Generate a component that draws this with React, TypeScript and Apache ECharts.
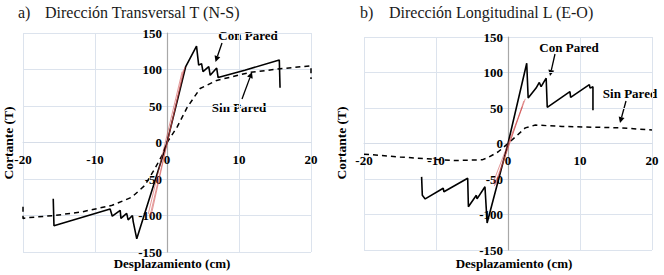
import React, { useEffect, useRef } from "react";
import * as echarts from "echarts";

// ---------- data (desplazamiento cm, cortante T) ----------
const xTicks = [-20, -10, 0, 10, 20];
const yTicks = [-150, -100, -50, 0, 50, 100, 150];

// a) Dirección Transversal T (N-S)
const conParedT: [number, number][] = [
  [-15.8, -77], [-15.7, -114], [-7.9, -91], [-7.6, -101], [-6.5, -93], [-6.4, -104],
  [-5.6, -97], [-5.4, -106], [-4.8, -100], [-4.7, -108], [-4.2, -132], [0, 0],
  [2.6, 104], [4.1, 132], [4.4, 106], [4.8, 108], [5.0, 97], [5.8, 104], [6.0, 92],
  [6.9, 102], [7.1, 89], [10.8, 99], [15.6, 113], [15.7, 75],
];
const sinParedT: [number, number][] = [
  [-20, -88], [-20, -104], [-19.3, -103], [-15.6, -100], [-11.8, -95], [-7.6, -86],
  [-4.9, -75], [-3.1, -59], [-1.7, -36], [-0.7, -18], [0, 0], [1.4, 21], [2.8, 48],
  [4.6, 74], [6.9, 85], [11.5, 96], [15.7, 101], [20, 105], [20, 87],
];
const elasticT: [number, number][][] = [
  [[-2.4, -102], [2.5, 104]],
  [[-2.2, -100], [2.3, 100]],
  [[-2.6, -98], [2.1, 97]],
];

// b) Dirección Longitudinal L (E-O)
const conParedL: [number, number][] = [
  [-12.0, -47], [-11.9, -73], [-11.5, -78], [-9.0, -63], [-8.9, -68], [-5.6, -49],
  [-5.5, -89], [-4.4, -73], [-4.3, -78], [-3.2, -61], [-2.9, -112], [0, 0],
  [2.6, 113], [2.8, 64], [3.9, 78], [4.35, 86], [4.6, 80], [5.3, 92], [5.45, 51],
  [8.6, 73], [8.7, 65], [11.3, 83], [11.4, 78], [11.8, 80], [11.8, 47],
];
const sinParedL: [number, number][] = [
  [-20, -15], [-15, -19], [-10.6, -22], [-7.4, -24], [-3.6, -23], [-2.8, -20],
  [-1.4, -12], [0, 0], [1.0, 9], [2.4, 22], [3.8, 26], [7.5, 24], [15.8, 22], [20, 19],
];
const elasticL: [number, number][][] = [
  [[-1.9, -60], [2.4, 63]],
  [[-1.7, -58], [2.2, 60]],
  [[-2.1, -56], [2.0, 52]],
];

const titles = ["Dirección Transversal T (N-S)", "Dirección Longitudinal L (E-O)"];
const titleLetters = ["a)", "b)"];
const yName = "Cortante (T)";
const xName = "Desplazamiento (cm)";
const conLabel = "Con Pared";
const sinLabel = "Sin Pared";

const SERIF = "Liberation Serif";

function arrow(x1: number, y1: number, x2: number, y2: number): any[] {
  const dx = x2 - x1;
  const dy = y2 - y1;
  const len = Math.sqrt(dx * dx + dy * dy);
  const ux = dx / len;
  const uy = dy / len;
  const hl = 6;
  const hw = 3;
  const bx = x2 - ux * hl;
  const by = y2 - uy * hl;
  return [
    {
      type: "line",
      shape: { x1, y1, x2: bx, y2: by },
      style: { stroke: "#000", lineWidth: 1.3 },
    },
    {
      type: "polygon",
      shape: {
        points: [
          [x2, y2],
          [bx - uy * hw, by + ux * hw],
          [bx + uy * hw, by - ux * hw],
        ],
      },
      style: { fill: "#000" },
    },
  ];
}

function text(x: number, y: number, t: string, opts: any = {}): any {
  return {
    type: "text",
    x,
    y,
    rotation: opts.rotation || 0,
    style: {
      text: t,
      fill: opts.color || "#000",
      fontFamily: SERIF,
      fontSize: opts.size || 13,
      fontWeight: opts.bold ? "bold" : "normal",
      align: opts.align || "center",
      verticalAlign: "middle",
    },
  };
}

export default function App() {
  const ref = useRef<HTMLDivElement>(null);

  useEffect(() => {
    if (!ref.current) return;
    const chart = echarts.init(ref.current, null, { renderer: "svg" });

    const grids = [
      { left: 23, top: 33, width: 288, height: 219 },
      { left: 364, top: 37, width: 288, height: 213 },
    ];

    const axisLabel = {
      fontFamily: SERIF,
      fontWeight: "bold",
      fontSize: 13,
      color: "#000",
    };

    const xAxis = [0, 1].map((i) => ({
      type: "value",
      gridIndex: i,
      position: "bottom",
      offset: -grids[i].height / 2,
      min: xTicks[0],
      max: xTicks[xTicks.length - 1],
      interval: 10,
      axisLine: { show: true, onZero: false, lineStyle: { color: "#d6dde8", width: 1 } },
      axisTick: { show: false },
      axisLabel: { ...axisLabel, margin: 10 },
      splitLine: { show: true, lineStyle: { color: "#dce3ed", width: 1 } },
    }));
    const yAxis = [0, 1].map((i) => ({
      type: "value",
      gridIndex: i,
      position: "left",
      offset: -grids[i].width / 2,
      min: yTicks[0],
      max: yTicks[yTicks.length - 1],
      interval: 50,
      axisLine: { show: true, onZero: false, lineStyle: { color: "#a8a8a8", width: 1.2 } },
      axisTick: { show: false },
      axisLabel: { ...axisLabel, margin: 5 },
      splitLine: { show: true, lineStyle: { color: "#dce3ed", width: 1 } },
    }));

    const series: any[] = [];
    const addSet = (i: number, con: [number, number][], sin: [number, number][], el: [number, number][][]) => {
      series.push({
        type: "line",
        xAxisIndex: i,
        yAxisIndex: i,
        data: sin,
        showSymbol: false,
        lineStyle: { color: "#000", width: 1.5, type: [5, 4] },
        z: 3,
      });
      series.push({
        type: "line",
        xAxisIndex: i,
        yAxisIndex: i,
        data: con,
        showSymbol: false,
        lineStyle: { color: "#000", width: 1.6 },
        z: 4,
      });
      el.forEach((seg) =>
        series.push({
          type: "line",
          xAxisIndex: i,
          yAxisIndex: i,
          data: seg,
          showSymbol: false,
          lineStyle: { color: "rgba(205,70,70,0.55)", width: 1 },
          z: 5,
        })
      );
    };
    addSet(0, conParedT, sinParedT, elasticT);
    addSet(1, conParedL, sinParedL, elasticL);

    const graphic: any[] = [
      text(18, 12, titleLetters[0], { size: 16, align: "left", color: "#1a1a1a" }),
      text(45, 12, titles[0], { size: 16, align: "left", color: "#1a1a1a" }),
      text(360, 12, titleLetters[1], { size: 16, align: "left", color: "#1a1a1a" }),
      text(389, 12, titles[1], { size: 16, align: "left", color: "#1a1a1a" }),
      text(8, 143, yName, { bold: true, size: 13.5, rotation: Math.PI / 2 }),
      text(341, 143, yName, { bold: true, size: 13.5, rotation: Math.PI / 2 }),
      text(172, 263, xName, { bold: true, size: 13 }),
      text(514, 263, xName, { bold: true, size: 13 }),
      text(248, 35, conLabel, { bold: true, size: 13 }),
      text(239, 107, sinLabel, { bold: true, size: 13 }),
      text(569, 47, conLabel, { bold: true, size: 13 }),
      text(630, 93, sinLabel, { bold: true, size: 13 }),
      ...arrow(222, 43, 215.5, 62),
      ...arrow(242, 99, 252, 72),
      ...arrow(555, 54, 550, 76),
      ...arrow(626, 101, 620, 123),
    ];

    chart.setOption({
      animation: false,
      backgroundColor: "#fff",
      grid: grids,
      xAxis,
      yAxis,
      series,
      graphic,
    });

    return () => chart.dispose();
  }, []);

  return (
    <div
      ref={ref}
      style={{ position: "absolute", left: 0, top: 0, width: 664, height: 275 }}
    />
  );
}
